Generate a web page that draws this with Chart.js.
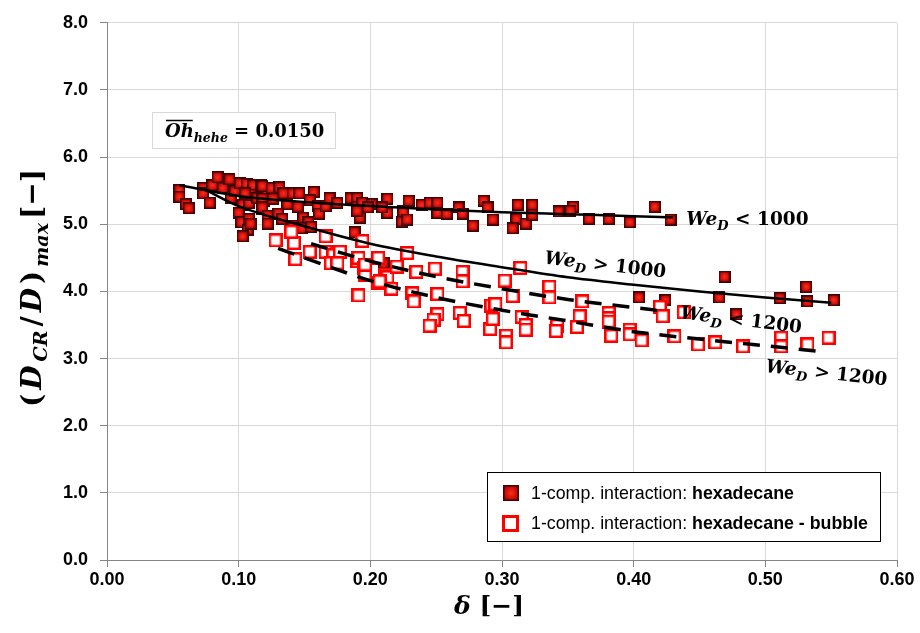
<!DOCTYPE html>
<html>
<head>
<meta charset="utf-8">
<script src="https://cdn.jsdelivr.net/npm/chart.js@4"></script>
<style>
  body { margin: 0; background: #fff; }
  #wrap { width: 920px; height: 633px; position: relative; }
</style>
</head>
<body>
<div id="wrap"><canvas id="myChart"></canvas></div>
<script>
// hexadecane (filled squares)
const hex_x = [0.055,0.055,0.060,0.062,0.073,0.073,0.078,0.080,0.084,0.088,0.093,0.094,0.097,0.101,0.103,0.100,0.102,0.107,0.103,0.106,
  0.111,0.117,0.108,0.118,0.119,0.122,0.109,0.114,0.105,0.108,0.109,0.118,0.125,0.131,0.134,0.141,0.146,0.145,0.118,0.126,
  0.137,0.157,0.154,0.160,0.161,0.166,0.169,0.175,0.185,0.190,0.190,0.192,0.118,0.122,0.122,0.130,0.133,0.141,0.149,0.153,
  0.148,0.155,0.188,0.194,0.201,0.190,0.198,0.213,0.213,0.209,0.210,0.229,0.225,0.224,0.228,0.239,0.245,0.251,0.251,0.258,
  0.267,0.270,0.278,0.286,0.289,0.293,0.312,0.311,0.308,0.318,0.323,0.323,0.343,0.354,0.352,0.366,0.381,0.397,0.416,0.428,
  0.404,0.424,0.469,0.465,0.478,0.511,0.531,0.532,0.552];
const hex_y = [5.51,5.41,5.30,5.24,5.54,5.46,5.32,5.58,5.70,5.54,5.67,5.39,5.49,5.61,5.29,5.17,5.03,4.92,4.82,5.60,
  5.58,5.58,5.32,5.22,5.34,5.49,5.44,5.39,5.46,5.08,5.01,5.57,5.54,5.55,5.46,5.46,5.46,5.26,5.38,5.38,
  5.30,5.48,5.36,5.27,5.16,5.27,5.39,5.32,5.39,5.39,5.26,5.10,5.25,5.13,5.01,5.16,5.08,4.98,5.10,5.03,
  4.94,4.96,4.88,5.32,5.30,5.20,5.25,5.38,5.17,5.25,4.42,5.35,5.19,5.04,5.07,5.29,5.32,5.32,5.17,5.16,
  5.25,5.16,4.98,5.35,5.25,5.07,5.29,5.08,4.94,5.01,5.29,5.14,5.19,5.26,5.20,5.08,5.08,5.03,5.26,5.07,
  3.91,3.87,4.22,3.91,3.66,3.90,4.07,3.85,3.87];

// hexadecane - bubble (open squares)
const bub_x = [0.128,0.142,0.140,0.143,0.154,0.166,0.166,0.172,0.177,0.170,0.175,0.190,0.191,0.194,0.195,0.196,0.196,0.206,0.206,0.191,
  0.228,0.211,0.213,0.220,0.216,0.207,0.232,0.233,0.235,0.249,0.251,0.251,0.248,0.245,0.268,0.271,0.270,0.270,0.291,0.293,
  0.292,0.295,0.302,0.308,0.314,0.315,0.318,0.318,0.303,0.303,0.336,0.336,0.342,0.341,0.361,0.359,0.357,0.381,0.381,0.381,
  0.383,0.397,0.397,0.406,0.420,0.422,0.438,0.431,0.449,0.462,0.483,0.512,0.512,0.532,0.548];
const bub_y = [4.76,4.72,4.89,4.48,4.59,4.82,4.59,4.54,4.59,4.42,4.42,4.45,4.50,4.75,4.35,4.25,4.40,4.50,4.13,3.94,
  4.57,4.25,4.21,4.37,4.04,4.15,3.97,3.85,4.29,4.34,3.96,3.66,3.58,3.49,3.68,3.56,4.29,4.15,3.44,3.59,
  3.79,3.81,4.16,3.93,4.35,3.62,3.50,3.43,3.34,3.24,4.07,3.91,3.49,3.41,3.85,3.63,3.47,3.68,3.60,3.55,
  3.34,3.43,3.36,3.27,3.77,3.63,3.69,3.33,3.21,3.24,3.18,3.31,3.18,3.21,3.31];

// trend lines
const lo1000_x = [0.055,0.10,0.15,0.20,0.25,0.30,0.35,0.40,0.43];
const lo1000_y = [5.58,5.42,5.33,5.27,5.22,5.18,5.15,5.12,5.10];
const hi1000_x = [0.076,0.10,0.15,0.20,0.25,0.30,0.35,0.40,0.45,0.50,0.55];
const hi1000_y = [5.50,5.27,4.97,4.71,4.52,4.36,4.21,4.10,4.00,3.91,3.83];
const lo1200_x = [0.155,0.20,0.25,0.30,0.35,0.40,0.425];
const lo1200_y = [4.71,4.45,4.22,4.04,3.88,3.76,3.70];
const hi1200_x = [0.13,0.15,0.20,0.25,0.30,0.35,0.40,0.45,0.50,0.545];
const hi1200_y = [4.64,4.50,4.16,3.91,3.72,3.56,3.40,3.29,3.19,3.10];

const x_ticks = [0.00,0.10,0.20,0.30,0.40,0.50,0.60];
const y_ticks = [0.0,1.0,2.0,3.0,4.0,5.0,6.0,7.0,8.0];

function pts(xs, ys){
    var out = [];
    for(var i=0; i<xs.length; i++){ out.push({x: xs[i], y: ys[i]}); }
    return out;
}

// marker images
function filledMarker(sz){
    var c = document.createElement('canvas');
    c.width = sz; c.height = sz;
    var g = c.getContext('2d');
    g.fillStyle = '#3a0606';
    g.fillRect(0,0,sz,sz);
    var grad = g.createRadialGradient(sz/2,sz/2,0.5,sz/2,sz/2,sz/2);
    grad.addColorStop(0,'#ff2a1a');
    grad.addColorStop(1,'#b00000');
    g.fillStyle = grad;
    g.fillRect(1.5,1.5,sz-3,sz-3);
    return c;
}
function openMarker(sz, bw){
    var c = document.createElement('canvas');
    c.width = sz; c.height = sz;
    var g = c.getContext('2d');
    g.fillStyle = '#ff0000';
    g.fillRect(0,0,sz,sz);
    g.fillStyle = '#ffffff';
    g.fillRect(bw,bw,sz-2*bw,sz-2*bw);
    return c;
}
const fill_mk = filledMarker(12);
const open_mk = openMarker(14, 2.5);
const fill_leg = filledMarker(16);
const open_leg = openMarker(17, 3);

const SERIF = '"DejaVu Serif", "Liberation Serif", serif';
function bi(sz){ return 'italic bold ' + sz + 'px ' + SERIF; }
function bu(sz){ return 'bold ' + sz + 'px ' + SERIF; }

// draw a run of text pieces [text, font, dy], with optional gap between pieces
function drawRich(ctx, parts, x, y, angle, center, gap){
    gap = gap || 0;
    ctx.save();
    ctx.translate(x, y);
    ctx.rotate(angle);
    var total = gap * (parts.length - 1);
    parts.forEach(function(p){ ctx.font = p[1]; total += ctx.measureText(p[0]).width; });
    var cx = center ? -total/2 : 0;
    var pos = [];
    ctx.fillStyle = '#000';
    ctx.textBaseline = 'alphabetic';
    parts.forEach(function(p){
        ctx.font = p[1];
        ctx.fillText(p[0], cx, p[2] || 0);
        var w = ctx.measureText(p[0]).width;
        pos.push([cx, w]);
        cx += w + gap;
    });
    ctx.restore();
    return pos;
}

function weLabel(sign, num){
    return [['We', bi(18.5)], ['D', bi(13), 5], [' ' + sign + ' ', bu(18.5)], [num, bu(18.5)]];
}

const overlay = {
    id: 'overlay',
    afterDatasetsDraw(chart){
        var ctx = chart.ctx;
        var xs = chart.scales.x, ys = chart.scales.y;

        // curve labels
        drawRich(ctx, weLabel('<', '1000'), xs.getPixelForValue(0.440), ys.getPixelForValue(4.99), 0, false);
        drawRich(ctx, weLabel('>', '1000'), xs.getPixelForValue(0.378), ys.getPixelForValue(4.31), 0.115, true);
        drawRich(ctx, weLabel('<', '1200'), xs.getPixelForValue(0.481), ys.getPixelForValue(3.49), 0.12, true);
        drawRich(ctx, weLabel('>', '1200'), xs.getPixelForValue(0.546), ys.getPixelForValue(2.70), 0.11, true);

        // Oh annotation box
        ctx.save();
        ctx.fillStyle = '#fff';
        ctx.strokeStyle = '#d9d9d9';
        ctx.lineWidth = 1;
        ctx.fillRect(152.5, 112.5, 183, 36);
        ctx.strokeRect(152.5, 112.5, 183, 36);
        ctx.restore();
        var pos = drawRich(ctx, [['Oh', bi(18)], ['hehe', bi(12.5), 5], [' = 0.0150', bu(18)]], 165, 137, 0, false);
        ctx.save();
        ctx.strokeStyle = '#000';
        ctx.lineWidth = 1.5;
        ctx.beginPath();
        ctx.moveTo(165 + pos[0][0] + 1, 120.5);
        ctx.lineTo(165 + pos[0][0] + pos[0][1] - 1, 120.5);
        ctx.stroke();
        ctx.restore();

        // legend
        ctx.save();
        ctx.fillStyle = '#fff';
        ctx.fillRect(487.5, 472.5, 393, 69);
        ctx.strokeStyle = '#000';
        ctx.lineWidth = 1;
        ctx.strokeRect(487.5, 472.5, 393, 69);
        ctx.drawImage(fill_leg, 503, 485);
        ctx.drawImage(open_leg, 502, 515);
        ctx.fillStyle = '#000';
        ctx.textBaseline = 'middle';
        var lf = '17.8px "Liberation Sans", Arial, sans-serif';
        var bf = 'bold 17.8px "Liberation Sans", Arial, sans-serif';
        ctx.font = lf;
        var pre = '1-comp. interaction: ';
        var w = ctx.measureText(pre).width;
        ctx.fillText(pre, 531, 494);
        ctx.fillText(pre, 531, 524);
        ctx.font = bf;
        ctx.fillText('hexadecane', 531 + w, 494);
        ctx.fillText('hexadecane - bubble', 531 + w, 524);
        ctx.restore();

        // axis titles
        drawRich(ctx, [['(', bu(28)], ['D', bi(28)], ['CR', bi(19), 6], ['/', bu(28)], ['D', bi(28)], [')', bu(28)],
            ['max', bi(19), 7], ['[\u2212]', bu(28)]], 41, 288, -Math.PI/2, true, 4);
        drawRich(ctx, [['\u03b4', bi(25)], [' [\u2212]', bu(25)]], 489, 614, 0, true);
    }
};

const tickFont = { family: '"Liberation Sans", Arial, sans-serif', size: 18, weight: 'bold' };

const data = {
    datasets: [
        { label: 'We<1000', type: 'line', data: pts(lo1000_x, lo1000_y), borderColor: '#000', borderWidth: 2.5,
          pointRadius: 0, fill: false, cubicInterpolationMode: 'monotone', order: 0 },
        { label: 'We>1000', type: 'line', data: pts(hi1000_x, hi1000_y), borderColor: '#000', borderWidth: 2.5,
          pointRadius: 0, fill: false, cubicInterpolationMode: 'monotone', order: 0 },
        { label: 'We<1200', type: 'line', data: pts(lo1200_x, lo1200_y), borderColor: '#000', borderWidth: 3.5,
          borderDash: [17, 11], pointRadius: 0, fill: false, cubicInterpolationMode: 'monotone', order: 0 },
        { label: 'We>1200', type: 'line', data: pts(hi1200_x, hi1200_y), borderColor: '#000', borderWidth: 3.5,
          borderDash: [17, 11], pointRadius: 0, fill: false, cubicInterpolationMode: 'monotone', order: 0 },
        { label: '1-comp. interaction: hexadecane', data: pts(hex_x, hex_y), pointStyle: fill_mk, order: 2 },
        { label: '1-comp. interaction: hexadecane - bubble', data: pts(bub_x, bub_y), pointStyle: open_mk, order: 1 }
    ]
};

const config = {
    type: 'scatter',
    data: data,
    options: {
        responsive: true,
        maintainAspectRatio: false,
        animation: false,
        layout: { padding: { top: 14, right: 23, left: 0, bottom: 0 } },
        plugins: { legend: { display: false }, tooltip: { enabled: false } },
        scales: {
            x: {
                type: 'linear', min: 0, max: 0.6,
                afterFit: function(s){ s.height = 73; },
                afterBuildTicks: function(s){ s.ticks = x_ticks.map(function(v){ return {value: v}; }); },
                ticks: { font: tickFont, color: '#000', padding: 2, callback: function(v){ return v.toFixed(2); } },
                grid: { color: '#d9d9d9', tickColor: '#868686', tickLength: 7 },
                border: { color: '#868686', width: 1 }
            },
            y: {
                type: 'linear', min: 0, max: 8,
                afterFit: function(s){ s.width = 107; },
                afterBuildTicks: function(s){ s.ticks = y_ticks.map(function(v){ return {value: v}; }); },
                ticks: { font: tickFont, color: '#000', padding: 12, callback: function(v){ return v.toFixed(1); } },
                grid: { color: '#d9d9d9', tickColor: '#868686', tickLength: 7 },
                border: { color: '#868686', width: 1 }
            }
        }
    },
    plugins: [overlay]
};

const my_chart = new Chart(document.getElementById('myChart'), config);
</script>
</body>
</html>
